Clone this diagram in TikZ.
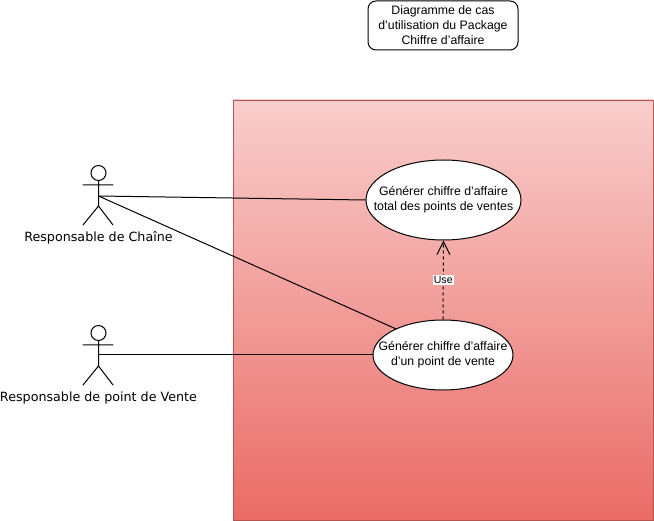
\documentclass[tikz,border=0pt]{standalone}
\usepackage{fontspec}
\setmainfont{Liberation Sans}
\newfontfamily\actorfont{DejaVu Sans}
\usetikzlibrary{arrows.meta,shapes.geometric}
\definecolor{gtop}{HTML}{F8CECC}
\definecolor{gbot}{HTML}{EA6B66}
\definecolor{gline}{HTML}{B85450}
\tikzset{
  every node/.style={font=\fontsize{12.3}{15}\selectfont,align=center,text=black},
  usecase/.style={ellipse,draw,fill=white,line width=1pt,inner xsep=-40pt,inner ysep=-14pt},
  titlebox/.style={draw,fill=white,rounded corners=8pt,line width=1pt,minimum width=150pt,minimum height=49pt,inner sep=0pt},
  actorlabel/.style={font=\actorfont\fontsize{12.7}{15}\selectfont,inner sep=0pt},
  link/.style={line width=1pt,draw=black},
  actorline/.style={line width=1pt,line cap=round},
  uselabel/.style={fill=white,font=\fontsize{10.6}{12}\selectfont,inner sep=1pt},
}
\begin{document}
\begin{tikzpicture}[x=1pt,y=-1pt]
\useasboundingbox (0,0) rectangle (654,521);
% system boundary
\shade[top color=gtop,bottom color=gbot,draw=none] (233.5,100) rectangle (653,520);
\draw[draw=gline,line width=0.8pt] (233.5,100) rectangle (653,520);
% title
\node[titlebox] (title) at (443,25.5) {Diagramme de cas\\d'utilisation du Package\\Chiffre d'affaire};
% use cases
\node[usecase,minimum width=155pt,minimum height=80pt] (uc1) at (443.5,200) {Générer chiffre d'affaire\\total des points de ventes};
\node[usecase,minimum width=140pt,minimum height=70pt] (uc2) at (443,355) {Générer chiffre d'affaire\\d'un point de vente};
% actor 1
\draw[actorline] (98.5,173) circle (7.5);
\draw[actorline] (98.5,180.5) -- (98.5,206) (83,185) -- (113,185) (83,225) -- (98.5,206) -- (113,225);
\coordinate (a1) at (98.5,196);
\node[actorlabel] (a1label) at (98.5,238) {Responsable de Chaîne};
% actor 2
\draw[actorline] (98.5,333) circle (7.5);
\draw[actorline] (98.5,340.5) -- (98.5,366) (83,345) -- (113,345) (83,385) -- (98.5,366) -- (113,385);
\coordinate (a2) at (98.5,355);
\node[actorlabel] (a2label) at (98.5,398) {Responsable de point de Vente};
% connectors
\draw[link] (a1) -- (uc1.west);
\draw[link] (a1) -- (uc2.151);
\draw[link] (a2) -- (uc2.west);
\draw[link,dashed,dash pattern=on 3pt off 3pt,-{Straight Barb[length=13pt,width=13pt,line width=1pt]}] (uc2.north) -- node[uselabel] (uselbl) {Use} (uc1.south);
\end{tikzpicture}
\end{document}
